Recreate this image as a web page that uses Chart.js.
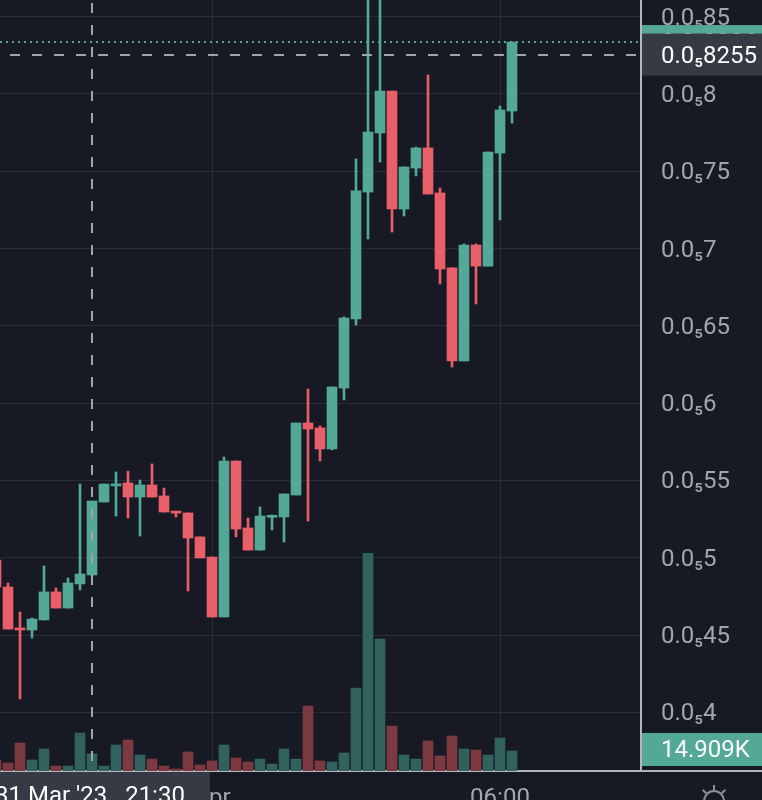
<!DOCTYPE html>
<html>
<head>
<meta charset="utf-8">
<script src="https://cdn.jsdelivr.net/npm/chart.js@4.4.1/dist/chart.umd.min.js"></script>
<style>
  html, body { margin: 0; padding: 0; background: #171a25; }
  #wrap { width: 762px; height: 800px; }
</style>
</head>
<body>
<div id="wrap"><canvas id="priceChart" width="762" height="800"></canvas></div>
<script>
/* =========================
   DATA  (prices in 0.0₅ units: 0.8255 -> 0.0₅8255)
========================= */

const candleIdx = [-1, 0, 1, 2, 3, 4, 5, 6, 7, 8, 9, 10, 11, 12, 13, 14, 15, 16, 17, 18, 19, 20,
  21, 22, 23, 24, 25, 26, 27, 28, 29, 30, 31, 32, 33, 34, 35, 36, 37, 38, 39, 40, 41, 42];

const opens = [0.4986, 0.4811, 0.4546, 0.4533, 0.4598, 0.4779, 0.4675, 0.4831, 0.4889, 0.5361,
  0.5465, 0.5484, 0.5393, 0.5471, 0.5400, 0.5302, 0.5290, 0.5135, 0.5005, 0.4617, 0.5626, 0.5193,
  0.5050, 0.5262, 0.5264, 0.5406, 0.5872, 0.5840, 0.5704, 0.6098, 0.6545, 0.7366, 0.7748, 0.8019,
  0.7256, 0.7521, 0.7651, 0.7360, 0.6875, 0.6273, 0.7023, 0.6887, 0.7618, 0.7890];

const highs = [0.4986, 0.4837, 0.4649, 0.4611, 0.4947, 0.4805, 0.4869, 0.5477, 0.5367, 0.5477,
  0.5555, 0.5561, 0.5503, 0.5607, 0.5451, 0.5302, 0.5290, 0.5135, 0.5005, 0.5652, 0.5626, 0.5257,
  0.5329, 0.5277, 0.5413, 0.5872, 0.6092, 0.5853, 0.6105, 0.6558, 0.7580, 0.8700, 0.8700, 0.8019,
  0.7528, 0.7657, 0.8123, 0.7392, 0.6875, 0.7030, 0.7030, 0.7625, 0.7922, 0.8336];

const lows = [0.4811, 0.4539, 0.4087, 0.4481, 0.4598, 0.4675, 0.4675, 0.4792, 0.4889, 0.5361,
  0.5270, 0.5257, 0.5141, 0.5393, 0.5296, 0.5264, 0.4785, 0.4999, 0.4617, 0.4617, 0.5135, 0.5050,
  0.5050, 0.5180, 0.5102, 0.5406, 0.5238, 0.5626, 0.5698, 0.6021, 0.6506, 0.7062, 0.7560, 0.7107,
  0.7211, 0.7470, 0.7353, 0.6771, 0.6234, 0.6273, 0.6642, 0.6887, 0.7185, 0.7812];

const closes = [0.4811, 0.4539, 0.4533, 0.4604, 0.4779, 0.4675, 0.4837, 0.4895, 0.5367, 0.5477,
  0.5478, 0.5393, 0.5471, 0.5393, 0.5296, 0.5289, 0.5128, 0.4999, 0.4617, 0.5626, 0.5186, 0.5050,
  0.5270, 0.5275, 0.5413, 0.5872, 0.5833, 0.5704, 0.6105, 0.6551, 0.7373, 0.7754, 0.8019, 0.7256,
  0.7528, 0.7651, 0.7353, 0.6868, 0.6273, 0.7023, 0.6887, 0.7625, 0.7897, 0.8336];

// volume in K
const volumes = [8.2, 6.0, 20.9, 8.2, 16.4, 3.7, 3.7, 28.3, 12.7, 3.7, 19.4, 23.1, 11.9, 8.9, 3.7,
  1.5, 14.2, 4.5, 7.5, 19.4, 9.7, 6.7, 8.9, 5.2, 16.4, 8.9, 48.4, 7.5, 6.7, 13.4, 61.8, 162.4, 98.3,
  33.5, 11.9, 8.9, 22.4, 11.2, 26.1, 16.4, 15.6, 11.9, 24.6, 14.909];

const priceTicks = [0.40, 0.45, 0.50, 0.55, 0.60, 0.65, 0.70, 0.75, 0.80, 0.85];

const timeTicks = [17, 41];
const timeLabels = ["Apr", "06:00"];

const crossIndex = 7;
const crossPrice = 0.8255;
const crossTime = "31 Mar '23   21:30";

/* =========================
   STYLE
========================= */

const BG = "#171a25";
const UP = "#53a896";
const DOWN = "#e95f67";
const UP_VOL = "#32625d";
const DOWN_VOL = "#7d3942";
const GRID = "#2a2d39";
const TEXT = "#a3a6ae";
const AXIS_LINE = "#b4b7bf";
const FONT = "Roboto, 'Noto Sans', sans-serif";

const fmtPrice = v => "0.0\u2085" + String(+v.toFixed(4)).slice(2);

const isUp = i => closes[i] >= opens[i];

const xMin = -8 / 12;
const xMax = xMin + 641 / 12;

// no label padding around the plot: the plot fills the canvas up to the axes
const noPadding = scale => {
  scale.paddingTop = 0;
  scale.paddingBottom = 0;
  scale.paddingLeft = 0;
  scale.paddingRight = 0;
};

/* =========================
   OVERLAY (crosshair, labels)
========================= */

const overlay = {
  id: "overlay",

  beforeDraw(chart) {
    const { ctx, width, height } = chart;
    ctx.save();
    ctx.fillStyle = BG;
    ctx.fillRect(0, 0, width, height);
    ctx.restore();
  },

  afterDatasetsDraw(chart) {
    const { ctx, chartArea: a, scales } = chart;
    const last = closes.length - 1;

    ctx.save();

    // last price dotted line
    const yLast = scales.y.getPixelForValue(closes[last]);
    ctx.strokeStyle = UP;
    ctx.lineWidth = 2;
    ctx.setLineDash([2, 4]);
    ctx.beginPath();
    ctx.moveTo(a.left, yLast);
    ctx.lineTo(a.right, yLast);
    ctx.stroke();

    // crosshair
    ctx.strokeStyle = "#a0a3aa";
    ctx.setLineDash([10, 12]);
    const cx = Math.round(scales.x.getPixelForValue(crossIndex));
    ctx.lineDashOffset = -3;
    ctx.beginPath();
    ctx.moveTo(cx, a.top);
    ctx.lineTo(cx, a.bottom);
    ctx.stroke();

    const cy = Math.round(scales.y.getPixelForValue(crossPrice));
    ctx.lineDashOffset = -10;
    ctx.beginPath();
    ctx.moveTo(a.left, cy);
    ctx.lineTo(a.right, cy);
    ctx.stroke();

    ctx.restore();
  },

  afterDraw(chart) {
    const { ctx, chartArea: a, scales, width, height } = chart;
    const last = closes.length - 1;

    ctx.save();
    ctx.font = "24px " + FONT;
    ctx.textBaseline = "middle";
    ctx.textAlign = "left";

    // bottom line under price axis
    ctx.fillStyle = AXIS_LINE;
    ctx.fillRect(a.right, a.bottom - 1, width - a.right, 2);

    // last price label
    const yLast = scales.y.getPixelForValue(closes[last]);
    ctx.fillStyle = UP;
    ctx.fillRect(a.right + 1, yLast - 17, width - a.right, 34);
    ctx.fillStyle = "#ffffff";
    ctx.fillText(fmtPrice(closes[last]), 661, yLast + 2);

    // crosshair price label
    const cy = scales.y.getPixelForValue(crossPrice);
    ctx.fillStyle = "#363a45";
    ctx.fillRect(a.right + 1, cy - 21, width - a.right, 42);
    ctx.fillStyle = "#ffffff";
    ctx.fillText(fmtPrice(crossPrice), 661, cy + 2);

    // last volume label
    const yVol = scales.vol.getPixelForValue(volumes[last]);
    ctx.fillStyle = UP;
    ctx.fillRect(a.right + 1, yVol - 18, width - a.right, 33);
    ctx.fillStyle = "#ffffff";
    ctx.fillText(volumes[last].toFixed(3) + "K", 661, yVol);

    // crosshair time label
    const cx = scales.x.getPixelForValue(crossIndex);
    ctx.fillStyle = "#363a45";
    ctx.fillRect(cx - 118, a.bottom + 1, 236, height - a.bottom);
    ctx.fillStyle = "#ffffff";
    ctx.textAlign = "center";
    ctx.textBaseline = "top";
    ctx.fillText(crossTime, cx - 2, a.bottom + 14);

    // settings gear (partly off screen)
    ctx.strokeStyle = "#8c8f99";
    ctx.lineWidth = 2;
    ctx.beginPath();
    ctx.arc(714, 801, 10, 0, Math.PI * 2);
    ctx.stroke();
    [0, Math.PI / 4, Math.PI / 2, Math.PI * 3 / 4, Math.PI].forEach(t => {
      ctx.beginPath();
      ctx.moveTo(714 + Math.cos(t) * 11, 801 - Math.sin(t) * 11);
      ctx.lineTo(714 + Math.cos(t) * 16, 801 - Math.sin(t) * 16);
      ctx.stroke();
    });

    ctx.restore();
  }
};

/* =========================
   CHART
========================= */

const ctx =
  document
    .getElementById("priceChart")
    .getContext("2d");

const priceChart =
  new Chart(ctx, {

    type: "bar",

    data: {

      datasets: [

        {
          label: "Body",
          data: candleIdx.map((k, i) => ({ x: k, y: [opens[i], closes[i]] })),
          backgroundColor: candleIdx.map((k, i) => isUp(i) ? UP : DOWN),
          barThickness: 10,
          grouped: false,
          yAxisID: "y",
          order: 1
        },

        {
          label: "Wick",
          data: candleIdx.map((k, i) => ({ x: k, y: [lows[i], highs[i]] })),
          backgroundColor: candleIdx.map((k, i) => isUp(i) ? UP : DOWN),
          barThickness: 2,
          grouped: false,
          yAxisID: "y",
          order: 2
        },

        {
          label: "Volume",
          data: candleIdx.map((k, i) => ({ x: k, y: volumes[i] })),
          backgroundColor: candleIdx.map((k, i) => isUp(i) ? UP_VOL : DOWN_VOL),
          barThickness: 10,
          grouped: false,
          yAxisID: "vol",
          order: 3
        }

      ]

    },

    options: {

      responsive: false,

      animation: false,

      layout: {
        padding: 0,
        autoPadding: false
      },

      plugins: {
        legend: { display: false },
        tooltip: { enabled: false }
      },

      scales: {

        x: {
          type: "linear",
          min: xMin,
          max: xMax,
          offset: false,
          afterBuildTicks: axis => {
            axis.ticks = timeTicks.map(v => ({ value: v }));
          },
          afterFit: scale => {
            scale.height = 29;
            noPadding(scale);
          },
          ticks: {
            color: TEXT,
            font: { family: FONT, size: 24 },
            padding: 14,
            maxRotation: 0,
            autoSkip: false,
            callback: value => timeLabels[timeTicks.indexOf(value)]
          },
          grid: {
            color: GRID,
            offset: false,
            drawTicks: false
          },
          border: {
            display: true,
            color: AXIS_LINE,
            width: 2
          }
        },

        y: {
          position: "right",
          min: 0.36209,
          max: 0.86080,
          afterBuildTicks: axis => {
            axis.ticks = priceTicks.map(v => ({ value: v }));
          },
          afterFit: scale => {
            scale.width = 121;
            noPadding(scale);
          },
          ticks: {
            color: TEXT,
            font: { family: FONT, size: 24 },
            padding: 20,
            labelOffset: 2,
            callback: value => fmtPrice(value)
          },
          grid: {
            color: GRID,
            drawTicks: false
          },
          border: {
            display: true,
            color: AXIS_LINE,
            width: 2
          }
        },

        vol: {
          display: false,
          min: 0,
          max: 575
        }

      }

    },

    plugins: [overlay]

  });
</script>
</body>
</html>
